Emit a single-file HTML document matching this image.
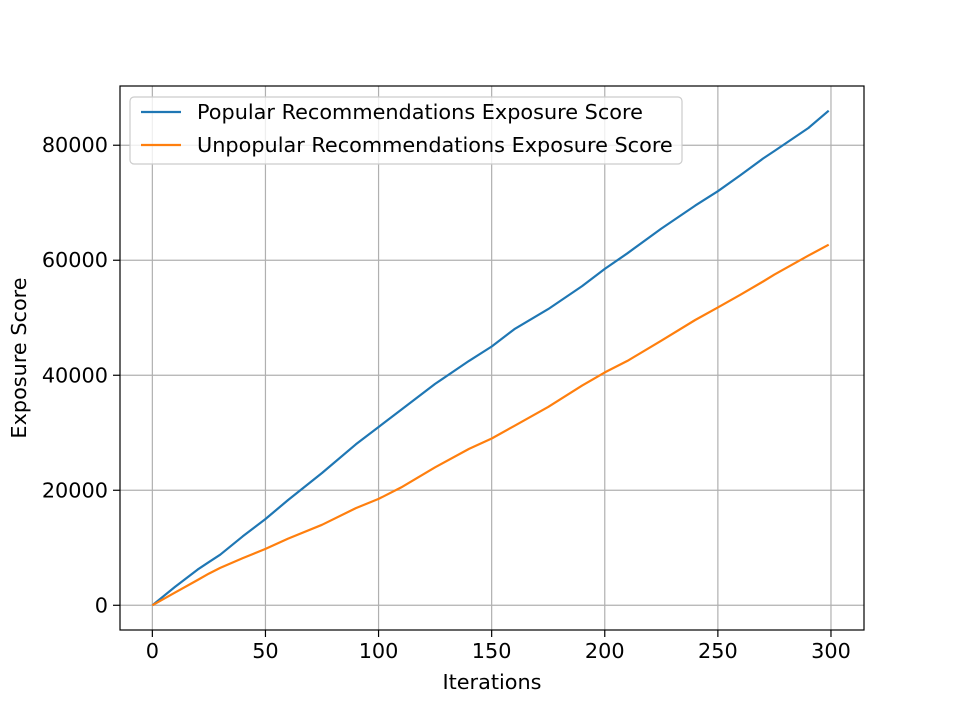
<!DOCTYPE html>
<html><head><meta charset="utf-8"><style>
html,body{margin:0;padding:0;background:#fff;}
svg{display:block;font-family:"DejaVu Sans","Liberation Sans",sans-serif;}
</style></head><body>
<svg id="chart" width="960" height="720">
<rect x="0" y="0" width="960" height="720" fill="#fff"/>
<g id="grid"></g>
<g id="series"></g>
<rect x="120" y="86" width="744" height="544" fill="none" stroke="#000" stroke-width="1.2"/>
<g id="ticks"></g>
<text x="492" y="689" font-size="20.8" text-anchor="middle">Iterations</text>
<text x="0" y="0" font-size="20.8" text-anchor="middle" transform="translate(26,358) rotate(-90)">Exposure Score</text>
<g>
<rect x="130" y="97" width="552" height="67" rx="4" fill="#fff" fill-opacity="0.8" stroke="#ccc" stroke-width="1.2"/>
<line x1="141" y1="112" x2="181" y2="112" stroke="#1f77b4" stroke-width="2.2"/>
<text x="197" y="119" font-size="20.8">Popular Recommendations Exposure Score</text>
<line x1="141" y1="145" x2="181" y2="145" stroke="#ff7f0e" stroke-width="2.2"/>
<text x="197" y="152" font-size="20.8">Unpopular Recommendations Exposure Score</text>
</g>
</svg>
<script>
const iterations = [0,10,20,25,30,40,50,60,75,90,100,110,125,140,150,160,175,190,200,210,225,240,250,260,270,275,290,299];
const popularScores = [0,3200,6200,7500,8800,12000,15000,18300,23000,28000,31000,34000,38500,42500,45000,48000,51500,55500,58500,61200,65500,69500,72000,74800,77700,79000,83000,86000];
const unpopularScores = [0,2200,4400,5500,6500,8200,9800,11600,14000,16900,18500,20500,24000,27200,29000,31200,34500,38200,40500,42500,46000,49600,51800,54000,56300,57500,60800,62700];
const xTicks = [0,50,100,150,200,250,300];
const yTicks = [0,20000,40000,60000,80000];

const L=120,R=864,T=86,B=630;
const xmin=-14.3,xmax=314.6,ymin=-4300,ymax=90300;
const sx=v=>L+(v-xmin)/(xmax-xmin)*(R-L);
const sy=v=>B-(v-ymin)/(ymax-ymin)*(B-T);
const NS="http://www.w3.org/2000/svg";
const grid=document.getElementById('grid'),ticks=document.getElementById('ticks'),series=document.getElementById('series');
function mk(tag,attrs,parent){const e=document.createElementNS(NS,tag);for(const k in attrs)e.setAttribute(k,attrs[k]);parent.appendChild(e);return e;}
xTicks.forEach(v=>{
  const x=sx(v);
  const g=mk('line',{x1:x,x2:x,y1:T,y2:B,stroke:'#b0b0b0','stroke-width':1.2},grid);
  
  
  const t=mk('line',{x1:x,x2:x,y1:B,y2:B+7,stroke:'#000','stroke-width':1.2},ticks);
  
  
  const l=mk('text',{x:x,y:B+28,'font-size':20.8,'text-anchor':'middle'},ticks);
  l.textContent=v;
  
  
});
yTicks.forEach(v=>{
  const y=sy(v);
  const g=mk('line',{x1:L,x2:R,y1:y,y2:y,stroke:'#b0b0b0','stroke-width':1.2},grid);
  
  
  const t=mk('line',{x1:L-7,x2:L,y1:y,y2:y,stroke:'#000','stroke-width':1.2},ticks);
  
  
  const l=mk('text',{x:L-12,y:y+7,'font-size':20.8,'text-anchor':'end'},ticks);
  l.textContent=v;
  
  
});
function line(vals,color,name){
  const pts=iterations.map((x,i)=>sx(x).toFixed(1)+','+sy(vals[i]).toFixed(1)).join(' ');
  const p=mk('polyline',{points:pts,fill:'none',stroke:color,'stroke-width':2.2,'stroke-linejoin':'round'},series);
  
  
}
line(popularScores,'#1f77b4','popular-line');
line(unpopularScores,'#ff7f0e','unpopular-line');
</script>
</body></html>
